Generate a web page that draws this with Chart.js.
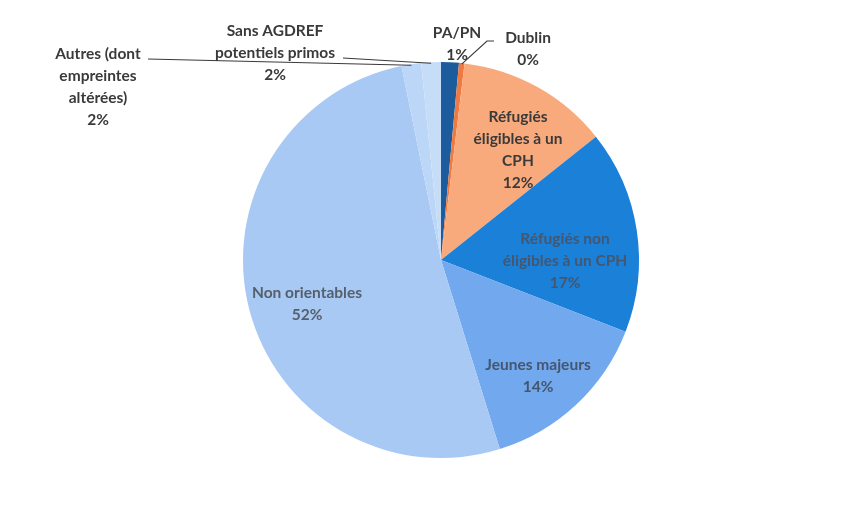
<!DOCTYPE html>
<html lang="fr">
<head>
<meta charset="utf-8">
<title>Répartition</title>
<script src="https://cdn.jsdelivr.net/npm/chart.js@4.4.1/dist/chart.umd.min.js"></script>
<style>
  html, body { margin: 0; padding: 0; background: #ffffff; }
  #wrap { width: 853px; height: 508px; position: relative; }
</style>
</head>
<body>
<div id="wrap"><canvas id="pieChart" width="853" height="508"></canvas></div>
<script>
// Categories, clockwise from 12 o'clock
const categories = [
  "PA/PN",
  "Dublin",
  "Réfugiés éligibles à un CPH",
  "Réfugiés non éligibles à un CPH",
  "Jeunes majeurs",
  "Non orientables",
  "Autres (dont empreintes altérées)",
  "Sans AGDREF potentiels primos",
];
// Share of each category, in percent
const shares = [1.45, 0.45, 12.4, 16.6, 14.3, 51.6, 1.6, 1.6];
const sliceColors = [
  "#1d5c9c", "#ee7a42", "#f8aa7c", "#1b80d8",
  "#72a8ed", "#a8c9f4", "#bcd6f7", "#c6ddf8",
];

// Label text lines (percentage line is appended from the data)
const labelLines = [
  ["PA/PN"],
  ["Dublin"],
  ["Réfugiés", "éligibles à un", "CPH"],
  ["Réfugiés non", "éligibles à un CPH"],
  ["Jeunes majeurs"],
  ["Non orientables"],
  ["Autres (dont", "empreintes", "altérées)"],
  ["Sans AGDREF", "potentiels primos"],
];
// Label block placement: [dx, dy] of first line, from pie centre
const labelOffsets = [
  [16, -227], [87, -222], [77, -143], [124, -21],
  [97, 105], [-134, 33], [-343, -206], [-166, -229],
];
const labelColors = [
  "#3a3a3a", "#3a3a3a", "#3a3a3a", "#45566e",
  "#45566e", "#55606c", "#3a3a3a", "#3a3a3a",
];
// Leader lines: points (relative to pie centre) after the slice edge point
const leaders = [
  null,
  [[46, -219], [53, -219]],
  null, null, null, null,
  [[-293, -201]],
  [[-98, -202]],
];

const lineHeight = 22;
const total = shares.reduce((a, b) => a + b, 0);

const labelPlugin = {
  id: "sliceLabels",
  afterDatasetsDraw(chart) {
    const ctx = chart.ctx;
    const arcs = chart.getDatasetMeta(0).data;
    ctx.save();
    ctx.font = "bold 15.5px Lato, 'Open Sans', sans-serif";
    ctx.textAlign = "center";
    ctx.textBaseline = "middle";
    arcs.forEach((arc, i) => {
      const { x, y, startAngle, endAngle, outerRadius } = arc.getProps(
        ["x", "y", "startAngle", "endAngle", "outerRadius"], true);
      // leader line from the slice edge
      if (leaders[i]) {
        const mid = (startAngle + endAngle) / 2;
        ctx.beginPath();
        ctx.moveTo(x + Math.cos(mid) * (outerRadius - 1), y + Math.sin(mid) * (outerRadius - 1));
        leaders[i].forEach(p => ctx.lineTo(x + p[0], y + p[1]));
        ctx.strokeStyle = "#3a3a3a";
        ctx.lineWidth = 1.2;
        ctx.stroke();
      }
      const pct = Math.round(shares[i] / total * 100) + "%";
      const lines = labelLines[i].concat([pct]);
      ctx.fillStyle = labelColors[i];
      lines.forEach((t, k) => {
        ctx.fillText(t, x + labelOffsets[i][0], y + labelOffsets[i][1] + k * lineHeight);
      });
    });
    ctx.restore();
  },
};

const pieCtx = document.getElementById("pieChart").getContext("2d");
new Chart(pieCtx, {
  type: "pie",
  data: {
    labels: categories,
    datasets: [
      {
        data: shares,
        backgroundColor: sliceColors,
        borderWidth: 0,
      },
    ],
  },
  options: {
    responsive: false,
    animation: false,
    layout: { padding: { left: 243, right: 214, top: 62, bottom: 50 } },
    plugins: {
      legend: { display: false },
      tooltip: { enabled: false },
    },
  },
  plugins: [labelPlugin],
});
</script>
</body>
</html>
